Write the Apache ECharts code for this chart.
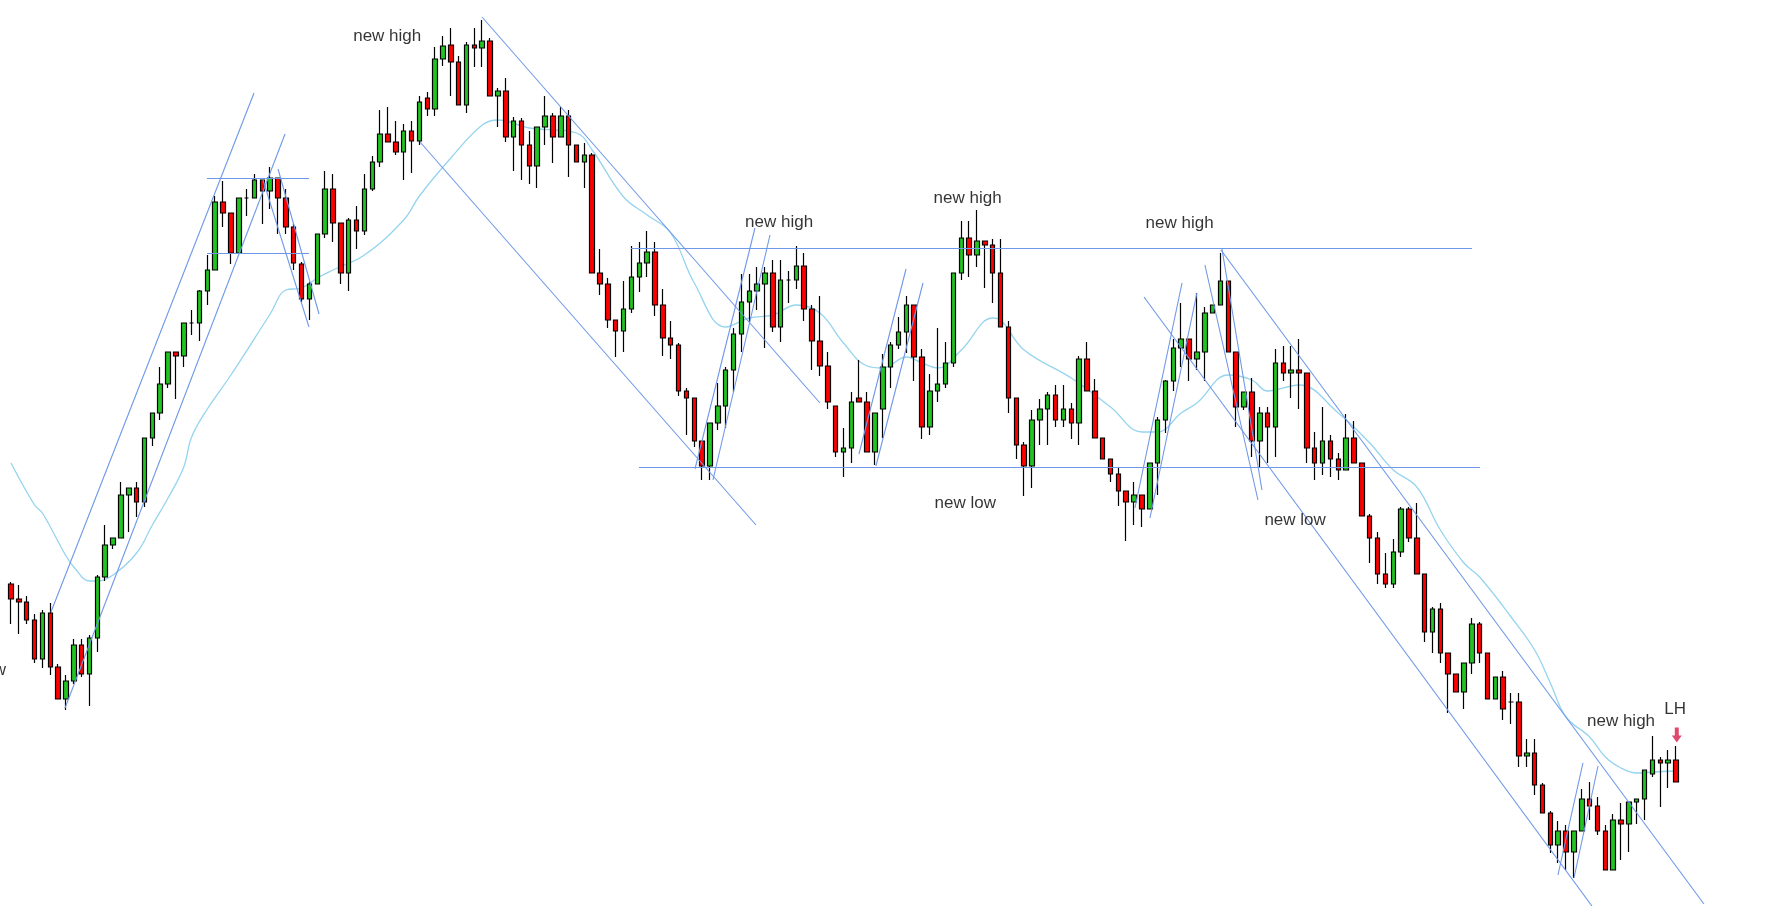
<!DOCTYPE html>
<html><head><meta charset="utf-8">
<script src="https://cdn.jsdelivr.net/npm/echarts@6/dist/echarts.min.js"></script>
<style>html,body{margin:0;padding:0;background:#fff}#c{width:1775px;height:906px}</style>
</head><body><div id="c"></div>
<script>
// [open, close, low, high]
const ohlc = [
[416,401,376,418],[401,398,366,415],[398,380,376,404],[380,341,337,386],[341,387,332,390],
[387,333,325,397],[333,301,301,336],[301,319,290,325],[319,355,316,361],[355,326,323,361],
[326,362,294,365],[362,423,348,425],[423,455,419,475],[455,462,451,462],[462,505,462,518],
[505,512,468,512],[512,498,483,518],[498,562,493,562],[562,587,554,587],[587,616,580,633],
[616,648,612,648],[648,644,601,648],[644,677,633,677],[677,677,665,690],[677,709,659,710],
[709,730,695,745],[730,798,730,804],[798,787,773,819],[787,747,736,787],[747,802,747,802],
[802,802,784,811],[802,820,802,826],[820,809,776,820],[809,822,791,833],[822,802,766,822],
[802,773,766,811],[773,737,730,776],[736,701,698,738],[701,716,680,718],[716,766,716,766],
[766,811,762,829],[811,777,758,826],[777,727,716,777],[727,780,709,782],[780,769,751,794],
[769,811,765,826],[811,838,809,844],[838,866,833,890],[866,858,858,893],[858,848,845,879],
[848,869,820,876],[869,859,827,879],[859,898,855,904],[902,891,884,908],[891,941,884,953],
[941,954,934,964],[955,938,904,972],[938,895,895,944],[895,955,887,958],[955,952,933,972],
[952,959,933,980],[959,904,904,962],[904,909,873,912],[909,863,858,922],[863,879,829,883],
[879,855,820,882],[855,834,816,869],[834,873,812,873],[873,884,855,904],[884,863,837,887],
[863,884,863,893],[884,855,823,890],[855,838,838,855],[838,845,812,857],[845,727,727,847],
[727,716,705,751],[716,680,672,722],[680,669,643,680],[669,691,648,719],[691,723,687,754],
[723,737,708,758],[737,748,723,769],[748,695,684,758],[695,662,644,711],[662,655,641,679],
[655,609,604,657],[609,602,565,612],[602,559,553,602],[559,534,520,559],[534,577,520,577],
[577,594,570,617],[594,630,572,633],[630,666,608,672],[666,698,648,726],[698,709,678,726],
[709,716,690,733],[716,727,652,733],[727,673,668,740],[673,720,658,740],[720,720,697,729],
[720,734,711,754],[734,691,679,747],[691,659,630,695],[659,634,624,704],[634,598,591,648],
[594,548,543,594],[548,552,523,572],[552,598,537,608],[602,598,598,640],[598,548,548,608],
[548,587,535,587],[591,633,562,646],[633,655,612,658],[655,668,651,683],[668,695,647,704],
[695,643,619,695],[643,573,561,651],[573,609,565,626],[609,616,598,672],[616,637,612,658],
[637,727,633,727],[727,762,720,779],[762,745,723,779],[745,759,733,790],[759,755,712,759],
[755,727,697,761],[727,673,673,761],[673,602,587,679],[602,555,541,602],[555,534,504,558],
[534,580,512,590],[580,591,555,601],[591,605,555,608],[605,580,573,615],[580,591,573,615],
[591,577,561,597],[577,641,555,644],[641,609,609,658],[609,562,562,621],[562,541,541,562],
[541,526,518,541],[526,509,494,532],[509,498,459,509],[498,505,475,518],[505,491,473,505],
[491,537,491,537],[537,580,505,583],[580,619,567,620],[619,652,609,661],[652,661,633,697],
[661,641,619,661],[641,648,630,707],[648,687,619,693],[687,695,687,695],[695,719,695,747],
[719,648,648,719],[648,593,573,648],[593,608,590,608],[608,559,543,622],[559,587,533,593],
[587,573,537,593],[573,637,543,651],[637,627,619,654],[627,630,602,654],[630,627,591,661],
[627,552,537,627],[552,537,520,568],[537,559,525,593],[559,541,523,565],[541,530,520,547],
[530,562,530,586],[562,537,537,579],[537,484,484,537],[484,462,437,486],[462,426,416,468],
[426,416,412,447],[416,448,412,461],[448,491,443,493],[491,462,458,493],[462,426,426,497],
[426,368,358,426],[368,391,347,393],[391,347,337,397],[347,326,287,347],[326,308,308,326],
[308,337,291,337],[337,376,326,382],[376,347,337,378],[347,301,301,347],[301,323,301,323],
[323,291,280,329],[298,298,276,307],[298,244,233,307],[244,247,233,261],[247,215,205,261],
[215,187,187,217],[187,155,147,189],[155,169,137,179],[169,148,130,175],[148,169,122,169],
[169,201,169,211],[201,194,180,218],[194,169,165,203],[169,130,130,175],[130,180,130,186],
[180,176,140,197],[176,198,148,198],[198,201,176,201],[201,230,180,230],[226,240,223,264],
[240,237,193,243],[237,240,212,250],[240,218,218,254]
];
// moving average: [candle index, value]
const maIdx = [0,3,4,7,8,10,11,13,16,18,20,22,23,25,28,33,35,37,39,41,45,50,52,56,60,62,66,72,74,78,81,84,87,91,94,97,100,103,106,109,111,114,116,118,121,125,126,129,135,140,144,146,149,151,155,158,160,164,169,173,176,179,182,185,187,191,194,196,198,201,203,205,207,209,212];
const maVal = [537,495,487,444,433,419,419,425,447,475,502,533,563,591,625,686,710,712,722,730,745,780,804,842,875,880,872,867,850,803,785,767,717,673,682,685,695,687,657,634,632,643,637,632,650,682,680,650,622,593,568,568,587,597,625,620,609,615,587,557,530,513,470,437,423,383,350,317,283,263,243,232,227,228,229];
// trend lines: [x1, y1, x2, y2] in (candle index, price)
const trendLines = [
[5.09,388,30.94,907],[6.88,292,34.89,866],[24.96,822,37.94,822],[24.96,747,37.94,747],
[32.09,820,37.94,673],[34.0,831,39.22,686],[59.97,983,103.0,597],[52.08,858,94.86,475],
[78.94,752,186.02,752],[79.96,533,187.04,533],[87.09,531,94.73,772],[89.38,520,96.64,765],
[107.97,546,113.96,731],[110.13,534,116.12,717],[143.11,492,149.10,717],[145.02,482,151.0,707],
[144.26,703,201.30,94],[152.02,735,158.77,500],[154.19,751,159.28,510],[154.06,750,215.56,96],
[196.97,125,200.15,237],[199.01,122,202.07,234]
];
const labelTexts = ['new high','new high','new high','new high','new low','new low','new high','LH'];
const labelX = [47.9,97.8,121.8,148.8,121.5,163.5,205.0,211.9];
const labelY = [964,778,802,777,497,480,279,291];
const leftLabel = {text:'new low', x:0, y:330};
const arrowPos = [212.1,265];

const candleData = ohlc.map((d,i)=>[i,d[0],d[1],d[2],d[3]]);
const maData = maIdx.map((x,i)=>[x,maVal[i]]);
const px = 1665/(ohlc.length-1);
const xmin = -11/px, xmax = xmin + 1775/px;
const font = 'Liberation Sans, Arial, sans-serif';

const chart = echarts.init(document.getElementById('c'));
chart.setOption({
  animation:false,
  grid:{left:0,right:0,top:0,bottom:0},
  xAxis:{type:'value',min:xmin,max:xmax,show:false},
  yAxis:{type:'value',min:94,max:1000,show:false},
  series:[
    {type:'line',data:maData,smooth:0.4,symbol:'none',z:1,
     lineStyle:{color:'#95d4ee',width:1.3}},
    {type:'candlestick',data:candleData,encode:{x:0,y:[1,2,3,4]},barWidth:5,z:3,
     itemStyle:{color:'#22c322',color0:'#ff0000',borderColor:'#000',borderColor0:'#000',borderWidth:1.2},
     markLine:{silent:true,symbol:['none','none'],label:{show:false},animation:false,
       lineStyle:{color:'#6f98e8',width:1.1,type:'solid'},
       data:trendLines.map(l=>[{coord:[l[0],l[1]]},{coord:[l[2],l[3]]}])}},
    {type:'scatter',symbolSize:0,z:5,silent:true,
     data:labelTexts.map((t,i)=>({value:[labelX[i],labelY[i]],name:t})),
     label:{show:true,position:'inside',formatter:p=>p.name,color:'#000',fontSize:17,fontFamily:font}},
    {type:'scatter',symbolSize:0,z:5,silent:true,
     data:[{value:[leftLabel.x,leftLabel.y],name:leftLabel.text}],
     label:{show:true,position:'inside',align:'right',offset:[-5,0],formatter:p=>p.name,color:'#000',fontSize:17,fontFamily:font}},
    {type:'scatter',z:6,silent:true,symbol:'path://M3,0 L7,0 L7,8 L10,8 L5,15 L0,8 L3,8 Z',symbolSize:[10,15],
     data:[arrowPos],itemStyle:{color:'#d81b4a'}}
  ]
});
</script></body></html>
